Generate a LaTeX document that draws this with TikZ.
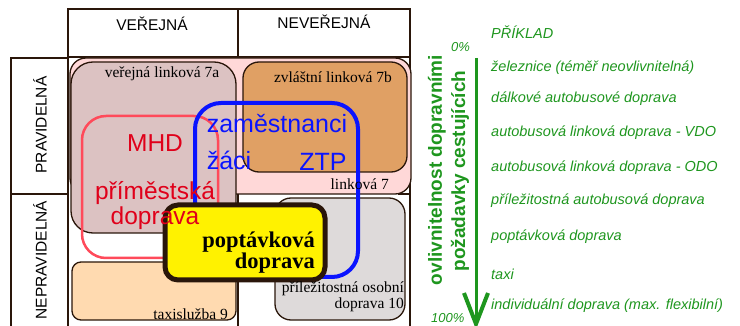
\documentclass[tikz,border=0pt]{standalone}
\usepackage{fontspec}
\setmainfont{Liberation Serif}
\setsansfont{Liberation Sans}
\usetikzlibrary{positioning}
\definecolor{gridc}{RGB}{42,22,10}
\definecolor{pinkf}{RGB}{255,216,216}
\definecolor{mauvef}{RGB}{220,194,194}
\definecolor{orangef}{RGB}{224,160,100}
\definecolor{peachf}{RGB}{255,218,176}
\definecolor{greyf}{RGB}{222,218,218}
\definecolor{redline}{RGB}{255,74,90}
\definecolor{redtext}{RGB}{224,0,26}
\definecolor{bluel}{RGB}{10,20,255}
\definecolor{greenl}{RGB}{30,150,30}

\begin{document}
\begin{tikzpicture}[x=1pt,y=-1pt,
	grid/.style={draw=gridc,line width=2pt},
	area/.style={draw=gridc,line width=1.3pt},
	head/.style={font=\sffamily\fontsize{15.5}{16}\selectfont,inner sep=0pt},
	serlab/.style={font=\rmfamily\fontsize{15.5}{16.5}\selectfont,inner sep=0pt},
	redlab/.style={font=\sffamily\fontsize{24.5}{25}\selectfont,text=redtext,inner sep=0pt},
	bluelab/.style={font=\sffamily\fontsize{25}{26}\selectfont,text=bluel,inner sep=0pt},
	example/.style={font=\sffamily\itshape\fontsize{14.5}{15}\selectfont,text=greenl,anchor=west,inner sep=0pt}]
	\useasboundingbox (0,0) rectangle (740,326);

	% table grid
	\draw[grid] (68,9) rectangle (410,57);
	\draw[grid] (238,9) -- (238,57);
	\draw[grid] (11,58) rectangle (68,194);
	\draw[grid] (11,194) -- (11,330);
	\draw[grid] (68,57) -- (68,330);
	\draw[grid] (238,194) -- (238,330);
	\draw[grid] (410,57) -- (410,330);
	\draw[grid] (11,194) -- (68,194);
	\draw[grid] (398,194) -- (410,194);

	% areas
	\draw[area,fill=pinkf,rounded corners=16] (70,58) rectangle (411,194);
	\draw[area,fill=mauvef,rounded corners=22] (71,62) rectangle (236,233);
	\draw[area,fill=orangef,rounded corners=16] (243,62) rectangle (407,172);
	\draw[area,fill=peachf,rounded corners=9] (72,262) rectangle (236,320);
	\draw[area,fill=greyf,rounded corners=16] (275,198) rectangle (405,320);
	\draw[draw=redline,line width=2.5pt,rounded corners=24] (82,116) rectangle (218,258);
	\draw[draw=bluel,line width=4pt,rounded corners=26] (195,103) rectangle (358,277);
	\draw[draw=gridc,line width=5pt,fill=yellow,rounded corners=13] (165,205) rectangle (325,280);

	% headers
	\node[head] (pub) at (152,24) {VEŘEJNÁ};
	\node[head] (priv) at (324,22) {NEVEŘEJNÁ};
	\node[head,rotate=90] (reg) at (40,125) {PRAVIDELNÁ};
	\node[head,rotate=90] (irreg) at (40,260) {NEPRAVIDELNÁ};

	% area labels
	\node[serlab] (l7a) at (162,74) {veřejná linková 7a};
	\node[serlab] (l7b) at (333,77) {zvláštní linková 7b};
	\node[serlab,anchor=east] (l7) at (389,184) {linková 7};
	\node[serlab,anchor=east] (l9) at (228,314) {taxislužba 9};
	\node[serlab,anchor=east,align=right] (l10) at (404,297) {příležitostná osobní\\doprava 10};

	\node[redlab] (mhd) at (155,143) {MHD};
	\node[redlab,align=center] (prim) at (155,206) {příměstská\\doprava};
	\node[bluelab] (emp) at (277,124) {zaměstnanci};
	\node[bluelab] (pupil) at (229,160) {žáci};
	\node[bluelab] (ztp) at (323,162) {ZTP};
	\node[font=\rmfamily\bfseries\fontsize{22.5}{21}\selectfont,align=right,anchor=east,inner sep=0pt] (dem) at (315,253) {poptávková\\doprava};

	% scale of influence
	\coordinate (st) at (476,58);
	\coordinate (en) at (476,324);
	\draw[greenl,line width=3pt] (st) -- (en);
	\draw[greenl,line width=4pt] (464,293) -- (en) -- (488,293);
	\node[example,font=\sffamily\itshape\fontsize{13}{14}\selectfont] (p0) at (451,47) {0\%};
	\node[example,font=\sffamily\itshape\fontsize{13}{14}\selectfont] (p100) at (431,318) {100\%};
	\node[font=\sffamily\bfseries\fontsize{19}{20}\selectfont,text=greenl,rotate=90,inner sep=0pt] (infl) at (437,170) {ovlivnitelnost dopravními};
	\node[font=\sffamily\bfseries\fontsize{19}{20}\selectfont,text=greenl,rotate=90,inner sep=0pt] (req) at (460,171) {požadavky cestujících};
	\node[example] (ex) at (491,32) {PŘÍKLAD};
	\foreach \y/\t in {68/železnice (téměř neovlivnitelná),99/dálkové autobusové doprava,133/autobusová linková doprava - VDO,168/autobusová linková doprava - ODO,201/příležitostná autobusová doprava,237/poptávková doprava,274/taxi,306/individuální doprava (max. flexibilní)}
		\node[example] at (491,\y) {\t};
\end{tikzpicture}
\end{document}
